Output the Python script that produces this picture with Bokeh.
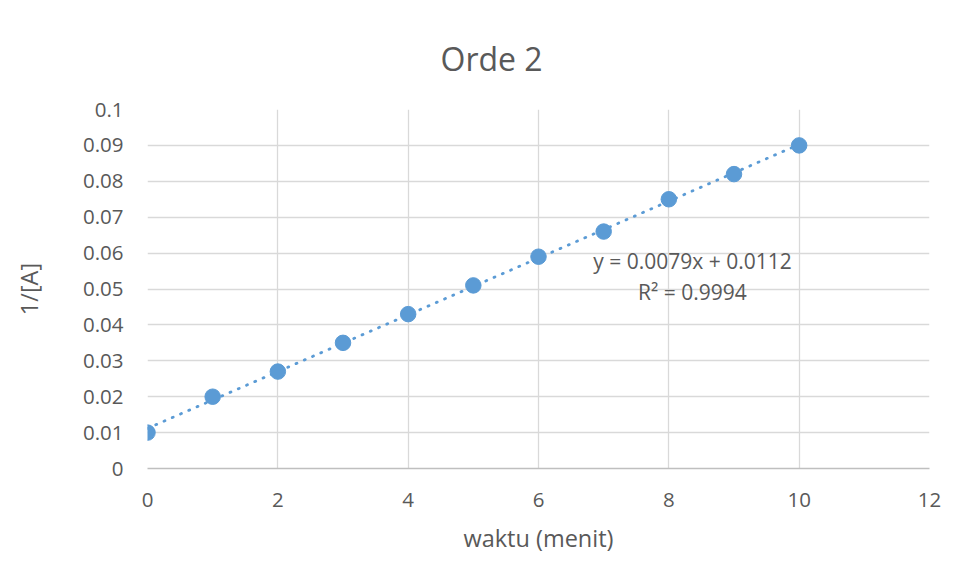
from bokeh.plotting import figure
from bokeh.models import Range1d, FixedTicker, Label, Title
from bokeh.embed import file_html
from bokeh.resources import INLINE
import numpy as np

# ---- data ----
waktu = [0, 1, 2, 3, 4, 5, 6, 7, 8, 9, 10]
inv_A = [0.010, 0.020, 0.027, 0.035, 0.043, 0.051, 0.059, 0.066, 0.075, 0.082, 0.090]
x_ticks = [0, 2, 4, 6, 8, 10, 12]
y_ticks = [0, 0.01, 0.02, 0.03, 0.04, 0.05, 0.06, 0.07, 0.08, 0.09, 0.1]
y_tick_labels = ["0", "0.01", "0.02", "0.03", "0.04", "0.05", "0.06", "0.07", "0.08", "0.09", "0.1"]
eq_text = "y = 0.0079x + 0.0112"
r2_text = "R\u00b2 = 0.9994"

FONT = "Open Sans"
TXT = "#595959"
BLUE = "#5b9bd5"
GRID = "#d9d9d9"

p = figure(width=951, height=570, output_backend="svg", toolbar_location=None,
           x_range=Range1d(0, 12), y_range=Range1d(0, 0.1),
           min_border_left=147, min_border_right=22, min_border_top=109, min_border_bottom=102)
p.outline_line_color = None
p.background_fill_color = "white"
p.border_fill_color = "white"

t = Title(text="Orde 2", align="left", offset=293, text_font=FONT, text_font_size="32px",
          text_font_style="normal", text_color=TXT, standoff=59)
p.add_layout(t, "above")

# axes
p.xaxis.ticker = FixedTicker(ticks=x_ticks)
p.yaxis.ticker = FixedTicker(ticks=y_ticks)
p.yaxis.major_label_overrides = {v: s for v, s in zip(y_ticks, y_tick_labels)}
for ax in (p.xaxis, p.yaxis):
    ax.major_tick_line_color = None
    ax.minor_tick_line_color = None
    ax.major_label_text_font = FONT
    ax.major_label_text_font_size = "20.5px"
    ax.major_label_text_color = TXT
    ax.axis_label_text_font = FONT
    ax.axis_label_text_font_size = "23.5px"
    ax.axis_label_text_font_style = "normal"
    ax.axis_label_text_color = TXT
p.yaxis.axis_line_color = None
p.xaxis.axis_line_color = "#bfbfbf"
p.xaxis.axis_line_width = 1.5
p.xaxis.axis_label = "waktu (menit)"
p.yaxis.axis_label = "1/[A]"
p.xaxis.major_label_standoff = 18
p.yaxis.major_label_standoff = 18
p.xaxis.axis_label_standoff = 12
p.yaxis.axis_label_standoff = 35

p.xgrid.ticker = FixedTicker(ticks=x_ticks)
p.ygrid.ticker = FixedTicker(ticks=y_ticks)
p.grid.grid_line_color = GRID
p.grid.grid_line_width = 1.3

# linear trendline from the data
slope, intercept = np.polyfit(waktu, inv_A, 1)
tx = [min(waktu), max(waktu)]
ty = [slope * v + intercept for v in tx]
p.line(tx, ty, line_color=BLUE, line_width=2.8, line_dash="1 8", line_cap="round")

p.scatter(waktu, inv_A, size=15.5, fill_color=BLUE, line_color=BLUE)

p.add_layout(Label(x=8.363, y=0.0577, text=eq_text, text_align="center", text_baseline="middle",
                   text_font=FONT, text_font_size="21px", text_color=TXT))
p.add_layout(Label(x=8.363, y=0.0493, text=r2_text, text_align="center", text_baseline="middle",
                   text_font=FONT, text_font_size="21px", text_color=TXT))

open("out.html", "w").write(file_html(p, INLINE))
